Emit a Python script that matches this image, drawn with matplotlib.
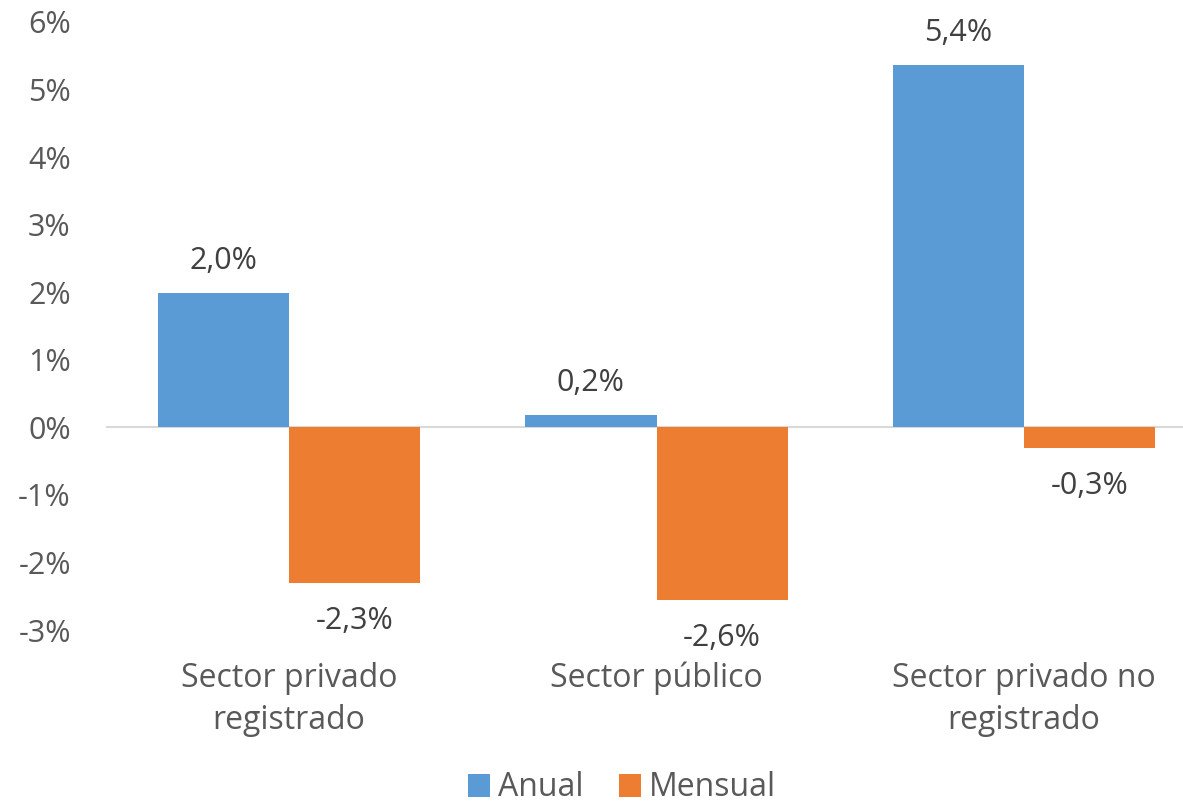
import numpy as np
import matplotlib.pyplot as plt
from matplotlib.ticker import FuncFormatter

plt.rcParams['font.family'] = ['Open Sans', 'DejaVu Sans']

categorias = ['Sector privado\nregistrado', 'Sector público', 'Sector privado no\nregistrado']
anual = [1.99, 0.18, 5.36]
mensual = [-2.31, -2.56, -0.31]

azul = '#5B9BD5'
naranja = '#ED7D31'
gris = '#595959'

fig = plt.figure(figsize=(11.83, 8.06), dpi=100)
ax = fig.add_axes([105.5 / 1183, 176 / 806, 1102 / 1183, 608 / 806])

x = np.arange(len(categorias))
w = 0.357
ax.bar(x - w / 2, anual, w, color=azul, label='Anual', zorder=2)
ax.bar(x + w / 2, mensual, w, color=naranja, label='Mensual', zorder=2)
ax.axhline(0, color='#D9D9D9', lw=1.5, zorder=1)

def fmt(v):
    return f'{v:.1f}%'.replace('.', ',')

for xi, v in zip(x - w / 2, anual):
    ax.annotate(fmt(v), (xi, v), xytext=(0, 23), textcoords='offset points',
                ha='center', va='center', fontsize=22, color='#404040')
for xi, v in zip(x + w / 2, mensual):
    ax.annotate(fmt(v), (xi, v), xytext=(0, -27), textcoords='offset points',
                ha='center', va='center', fontsize=22, color='#404040')

ax.set_xlim(-0.5, 2.5)
ax.set_ylim(-3, 6)
ax.set_yticks(range(-3, 7))
ax.yaxis.set_major_formatter(FuncFormatter(lambda v, p: f'{int(v)}%'))
ax.set_xticks(x)
ax.set_xticklabels(categorias, linespacing=1.35)
ax.tick_params(axis='y', length=0, pad=25, labelsize=22, labelcolor=gris)
ax.tick_params(axis='x', length=0, pad=23, labelsize=23, labelcolor=gris)
for s in ax.spines.values():
    s.set_visible(False)

fig.legend(loc='center', bbox_to_anchor=(622 / 1183, 1 - 788 / 806), ncol=2,
           frameon=False, fontsize=23, labelcolor=gris, handlelength=0.7,
           handleheight=0.7, handletextpad=0.25, columnspacing=1.1)

fig.savefig('out.png', dpi=100)
